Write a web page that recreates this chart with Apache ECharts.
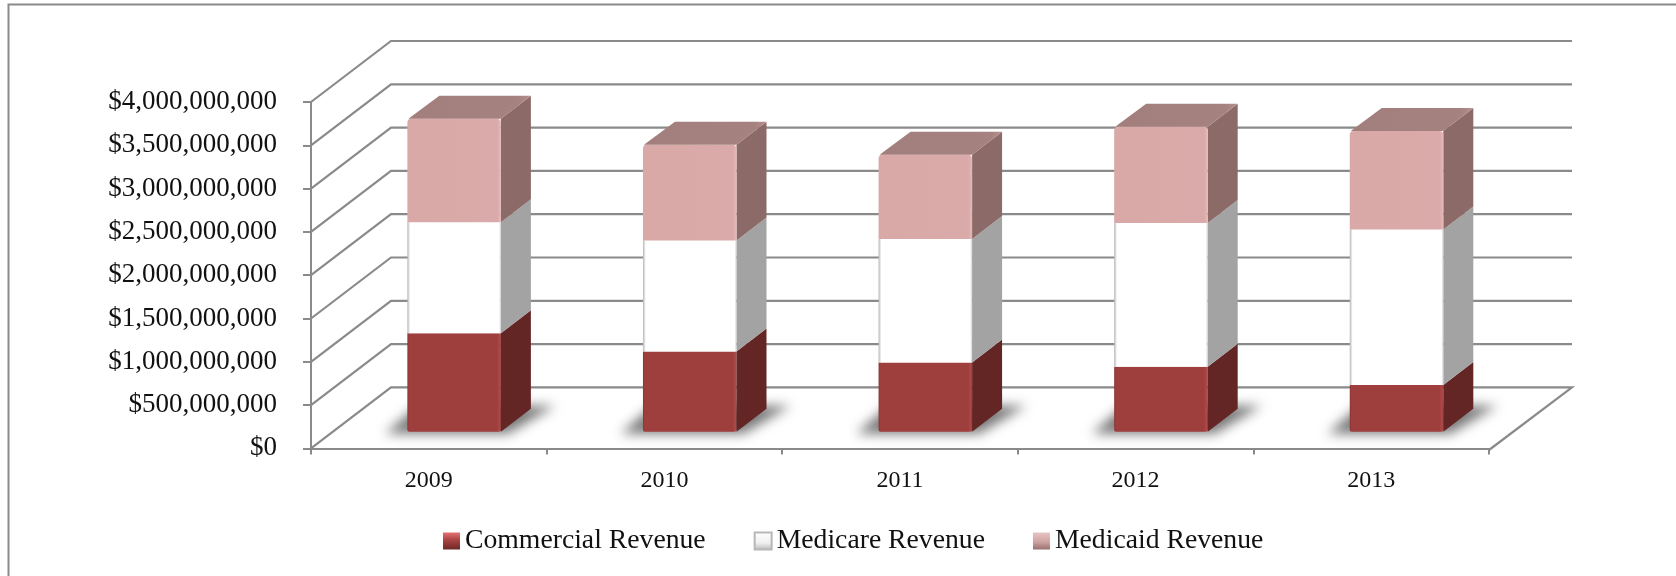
<!DOCTYPE html>
<html>
<head>
<meta charset="utf-8">
<style>
  html, body { margin: 0; padding: 0; background: #fff; }
  #chart { width: 1676px; height: 576px; }
</style>
<script src="https://cdn.jsdelivr.net/npm/echarts@6/dist/echarts.min.js"></script>
</head>
<body>
<div id="chart"></div>
<script>
var categories = ['2009', '2010', '2011', '2012', '2013'];
var commercial = [1137000000, 925000000, 798000000, 751000000, 540000000];
var medicare = [1283000000, 1283000000, 1426000000, 1658000000, 1796000000];
var medicaid = [1194000000, 1106000000, 974000000, 1113000000, 1135000000];
var tickValues = [0, 500000000, 1000000000, 1500000000, 2000000000, 2500000000, 3000000000, 3500000000, 4000000000];

var fontName = '"Liberation Serif", "Times New Roman", serif';
var lineColor = '#8a8a8a';

function hGrad(stops) {
  return new echarts.graphic.LinearGradient(0, 0, 1, 0, stops);
}
function vGrad(stops) {
  return new echarts.graphic.LinearGradient(0, 0, 0, 1, stops);
}

// turns the stacked values into [index, base, top] rows
function stackRows(values, under) {
  return values.map(function (v, i) {
    var base = 0;
    under.forEach(function (u) { base += u[i]; });
    return [i, base, base + v];
  });
}

// fake 3d box, the front face sits a bit forward of the back wall
function boxRenderer(front, side, top) {
  return function (params, api) {
    var i = api.value(0);
    var center = api.coord([i, 0])[0];
    var band = api.size([1, 0])[0];
    var left = center - band * 0.091;
    var w = band * 0.397;
    var floor = 16.7;
    var dx = 30, dy = 23;
    var y0 = api.coord([i, api.value(1)])[1] - floor;
    var y1 = api.coord([i, api.value(2)])[1] - floor;
    var kids = [{
      type: 'polygon',
      shape: { points: [[left + w, y1], [left + w + dx, y1 - dy], [left + w + dx, y0 - dy], [left + w, y0]] },
      style: { fill: side }
    }, {
      type: 'rect',
      shape: { x: left, y: y1, width: w, height: y0 - y1, r: top ? [4, 4, 0, 0] : (api.value(1) === 0 ? [0, 0, 2, 2] : 0) },
      style: { fill: front }
    }];
    if (top) {
      kids.push({
        type: 'polygon',
        shape: { points: [[left + 1, y1], [left + dx + 2, y1 - dy], [left + w + dx, y1 - dy], [left + w, y1]] },
        style: { fill: top }
      });
    }
    return { type: 'group', children: kids };
  };
}

var chart = echarts.init(document.getElementById('chart'));

var option = {
  animation: false,
  backgroundColor: '#fff',
  graphic: [{
    type: 'polyline',
    shape: { points: [[8.5, 576], [8.5, 4.5], [1676, 4.5]] },
    style: { stroke: lineColor, lineWidth: 2, fill: null },
    silent: true
  }],
  legend: {
    left: 438,
    top: 522,
    padding: 5,
    itemWidth: 17,
    itemHeight: 17,
    itemGap: 48,
    icon: 'rect',
    selectedMode: false,
    data: ['Commercial Revenue', 'Medicare Revenue', 'Medicaid Revenue'],
    textStyle: { fontFamily: fontName, fontSize: 27.7, color: '#111' }
  },
  grid: { left: 311, right: 187, top: 102, bottom: 127.6 },
  xAxis: {
    type: 'category',
    data: categories,
    offset: 1.6,
    axisLine: { lineStyle: { color: lineColor, width: 2 } },
    axisTick: { show: true, length: 6, lineStyle: { color: lineColor, width: 2 } },
    axisLabel: { margin: 19, fontFamily: fontName, fontSize: 24, color: '#111' }
  },
  yAxis: {
    type: 'value',
    min: 0,
    max: 4000000000,
    interval: 500000000,
    axisLine: { show: true, lineStyle: { color: lineColor, width: 2 } },
    axisTick: { show: true, length: 8, lineStyle: { color: lineColor, width: 2 } },
    splitLine: { show: false },
    axisLabel: {
      margin: 34,
      padding: [2, 0, 0, 0],
      fontFamily: fontName,
      fontSize: 27,
      color: '#111',
      formatter: function (v) { return '$' + v.toLocaleString('en-US'); }
    }
  },
  series: [{
    // back wall lines and floor edge
    type: 'custom',
    silent: true,
    z: 1,
    data: tickValues.map(function (v) { return [v]; }),
    encode: { y: 0 },
    renderItem: function (params, api) {
      var v = api.value(0);
      var x0 = params.coordSys.x;
      var x1 = x0 + params.coordSys.width;
      var y = api.coord([0, v])[1];
      var pts = [[x0, y], [x0 + 80, y - 61], [x1 + 83, y - 61]];
      if (v === 0) {
        pts.push([x1, y + 1.6]);
      }
      return {
        type: 'polyline',
        shape: { points: pts },
        style: { stroke: lineColor, lineWidth: 2.2, fill: null }
      };
    }
  }, {
    // soft floor shadow: the shape sits off the canvas, only its blurred canvas shadow lands here
    type: 'custom',
    silent: true,
    z: 2,
    data: categories.map(function (c, i) { return [i, 0]; }),
    encode: { x: 0, y: 1 },
    renderItem: function (params, api) {
      var i = api.value(0);
      var p = api.coord([i, 0]);
      var band = api.size([1, 0])[0];
      var left = p[0] - band * 0.091;
      var right = left + band * 0.397;
      var by = p[1] - 16.7;
      var away = 4000;
      return {
        type: 'polygon',
        shape: {
          points: [
            [left - 22 - away, by + 2],
            [right + 7 - away, by + 2],
            [right + 54 - away, by - 26],
            [left + 10 - away, by - 26]
          ]
        },
        style: {
          fill: '#000',
          shadowColor: 'rgba(105,105,105,0.9)',
          shadowBlur: 12,
          shadowOffsetX: away
        }
      };
    }
  }, {
    name: 'Commercial Revenue',
    type: 'custom',
    z: 3,
    itemStyle: { color: vGrad([{ offset: 0, color: '#e5706f' }, { offset: 0.45, color: '#a84444' }, { offset: 1, color: '#6d2726' }]) },
    data: stackRows(commercial, []),
    encode: { x: 0, y: [1, 2] },
    renderItem: boxRenderer(
      hGrad([{ offset: 0, color: '#8a3534' }, { offset: 0.02, color: '#9e3f3e' }, { offset: 0.96, color: '#9e3f3e' }, { offset: 0.99, color: '#b04a49' }, { offset: 1, color: '#7e2f2e' }]),
      '#642625'
    )
  }, {
    name: 'Medicare Revenue',
    type: 'custom',
    z: 3,
    itemStyle: {
      color: vGrad([{ offset: 0, color: '#ffffff' }, { offset: 0.6, color: '#f0f0f0' }, { offset: 1, color: '#b5b5b5' }]),
      borderColor: '#b8b8b8',
      borderWidth: 1
    },
    data: stackRows(medicare, [commercial]),
    encode: { x: 0, y: [1, 2] },
    renderItem: boxRenderer(
      hGrad([{ offset: 0, color: '#b5b5b5' }, { offset: 0.03, color: '#ffffff' }, { offset: 0.98, color: '#ffffff' }, { offset: 1, color: '#cfcfcf' }]),
      '#a3a3a3'
    )
  }, {
    name: 'Medicaid Revenue',
    type: 'custom',
    z: 3,
    itemStyle: { color: vGrad([{ offset: 0, color: '#e8c4c3' }, { offset: 0.55, color: '#cfa3a2' }, { offset: 1, color: '#96706f' }]) },
    data: stackRows(medicaid, [commercial, medicare]),
    encode: { x: 0, y: [1, 2] },
    renderItem: boxRenderer(
      hGrad([{ offset: 0, color: '#d9a9a8' }, { offset: 0.96, color: '#d9aaa9' }, { offset: 1, color: '#e5b9b8' }]),
      '#8b6a68',
      hGrad([{ offset: 0, color: '#a27e7c' }, { offset: 0.9, color: '#a58180' }, { offset: 1, color: '#b8908e' }])
    )
  }]
};

chart.setOption(option);
</script>
</body>
</html>
